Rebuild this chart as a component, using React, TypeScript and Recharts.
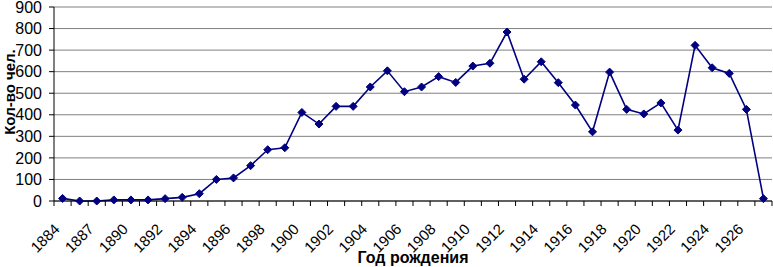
import React from 'react';
import { LineChart, Line, XAxis, YAxis, CartesianGrid } from 'recharts';

const years = [
  '1884', '1886', '1887', '1888', '1890', '1891', '1892', '1893', '1894', '1895',
  '1896', '1897', '1898', '1899', '1900', '1901', '1902', '1903', '1904', '1905',
  '1906', '1907', '1908', '1909', '1910', '1911', '1912', '1913', '1914', '1915',
  '1916', '1917', '1918', '1919', '1920', '1921', '1922', '1923', '1924', '1925',
  '1926', '1927',
];

const counts = [
  12, 0, 0, 5, 5, 5, 11, 17, 34, 100,
  107, 164, 238, 247, 411, 357, 439, 439, 529, 604,
  507, 529, 577, 550, 626, 639, 784, 565, 646, 549,
  445, 321, 598, 425, 404, 455, 329, 722, 618, 592,
  425, 11,
];

const yTicks = [0, 100, 200, 300, 400, 500, 600, 700, 800, 900];

const data = years.map((year, i) => ({ year, count: counts[i] }));

const FONT = '"Liberation Sans", Arial, sans-serif';
const LEFT = 54;
const RIGHT = 772;
const BAND = (RIGHT - LEFT) / years.length;

const XTick = (props: any) => {
  const { x, y, payload, index } = props;
  const tx = x - 2;
  const ty = y + 29;
  return (
    <g>
      <line x1={x - BAND / 2} x2={x - BAND / 2} y1={y} y2={y + 5} stroke="#000" />
      {index === years.length - 1 && (
        <line x1={x + BAND / 2} x2={x + BAND / 2} y1={y} y2={y + 5} stroke="#000" />
      )}
      {index % 2 === 0 && (
        <text
          x={tx}
          y={ty}
          textAnchor="end"
          transform={`rotate(-45, ${tx}, ${ty})`}
          fontFamily={FONT}
          fontSize={15}
          fill="#000"
        >
          {payload.value}
        </text>
      )}
    </g>
  );
};

const Diamond = (props: any) => {
  const { cx, cy } = props;
  if (cx == null || cy == null) return null;
  const r = 4;
  return (
    <polygon
      points={`${cx},${cy - r} ${cx + r},${cy} ${cx},${cy + r} ${cx - r},${cy}`}
      fill="#000080"
      stroke="#000080"
    />
  );
};

export default function App() {
  return (
    <div style={{ position: 'absolute', left: 0, top: 0, width: 773, height: 267, background: '#fff' }}>
      <LineChart
        width={773}
        height={267}
        data={data}
        margin={{ top: 7, right: 1, bottom: 0, left: 0 }}
      >
        <CartesianGrid vertical={false} stroke="#808080" />
        <XAxis
          dataKey="year"
          interval={0}
          padding={{ left: BAND / 2, right: BAND / 2 }}
          height={66}
          tickSize={0}
          tickMargin={0}
          tickLine={false}
          axisLine={{ stroke: '#000' }}
          tick={<XTick />}
        />
        <YAxis
          domain={[0, 900]}
          ticks={yTicks}
          interval={0}
          width={54}
          tickSize={5}
          tickMargin={7}
          axisLine={{ stroke: '#000' }}
          tickLine={{ stroke: '#000' }}
          tick={{ fontFamily: FONT, fontSize: 16, fill: '#000' }}
        />
        <Line
          type="linear"
          dataKey="count"
          stroke="#000080"
          strokeWidth={1.6}
          dot={<Diamond />}
          activeDot={false}
          isAnimationActive={false}
        />
      </LineChart>
      <svg width={773} height={267} style={{ position: 'absolute', left: 0, top: 0, pointerEvents: 'none' }}>
        <text
          x={15}
          y={92}
          textAnchor="middle"
          transform="rotate(-90, 15, 92)"
          fontFamily={FONT}
          fontSize={15}
          fontWeight="bold"
          fill="#000"
        >
          Кол-во чел.
        </text>
        <text
          x={413}
          y={263}
          textAnchor="middle"
          fontFamily={FONT}
          fontSize={16}
          fontWeight="bold"
          fill="#000"
        >
          Год рождения
        </text>
      </svg>
    </div>
  );
}
